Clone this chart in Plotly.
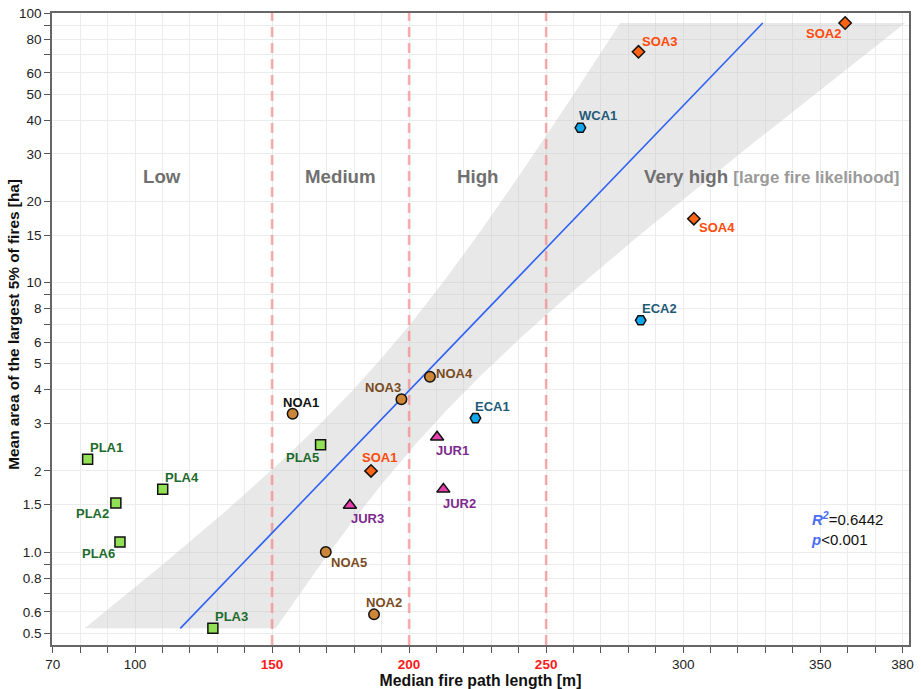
import numpy as np
import plotly.graph_objects as go

# ---------------- data ----------------
site_names = ["PLA1", "PLA2", "PLA3", "PLA4", "PLA5", "PLA6",
              "NOA1", "NOA2", "NOA3", "NOA4", "NOA5",
              "SOA1", "SOA2", "SOA3", "SOA4",
              "JUR1", "JUR2", "JUR3",
              "ECA1", "ECA2", "WCA1"]
site_groups = ["PLA"] * 6 + ["NOA"] * 5 + ["SOA"] * 4 + ["JUR"] * 3 + ["ECA", "ECA", "WCA"]
path_length = [82.7, 93.0, 128.4, 110.1, 167.7, 94.5,
               157.5, 187.2, 197.2, 207.6, 169.6,
               186.1, 359.1, 283.7, 303.9,
               210.2, 212.5, 178.4,
               224.2, 284.5, 262.5]
largest_area = [2.21, 1.52, 0.521, 1.71, 2.50, 1.09,
                3.26, 0.587, 3.69, 4.47, 1.00,
                2.00, 91.8, 71.8, 17.25,
                2.67, 1.71, 1.49,
                3.14, 7.24, 37.5]

zone_bounds = [150, 200, 250]
zone_names = ["Low", "Medium", "High", "Very high"]
zone_note = "[large fire likelihood]"
x_tick_labels = [70, 100, 150, 200, 250, 300, 350, 380]
y_tick_labels = [0.5, 0.6, 0.8, 1.0, 1.5, 2, 3, 4, 5, 6, 8, 10, 15, 20, 30, 40, 50, 60, 80, 100]
y_minor_ticks = [0.7, 0.9, 7, 9, 70, 90]
x_title = "Median fire path length [m]"
y_title = "Mean area of the largest 5% of fires [ha]"
r2_text = "0.6442"
p_text = "&lt;0.001"
t_quantile = 2.093  # t(0.975, df=19)

# ---------------- styles ----------------
group_style = {
    "PLA": dict(symbol="square", fill="#92e055", label="#1d6b2c", size=10),
    "NOA": dict(symbol="circle", fill="#cd8538", label="#7a4b1f", size=10.5),
    "SOA": dict(symbol="diamond", fill="#ff6414", label="#ff4a0a", size=9.5),
    "JUR": dict(symbol="triangle-up", fill="#e93fae", label="#7d2a8e", size=11.5),
    "ECA": dict(symbol="hexagon2", fill="#12a6ea", label="#1f5a78", size=10.5),
    "WCA": dict(symbol="hexagon2", fill="#12a6ea", label="#1f5a78", size=10.5),
}
label_color_override = {"NOA1": "#111111"}
label_offsets = {
    "PLA1": (19, 12), "PLA2": (-23, -10), "PLA3": (19, 12), "PLA4": (19, 12),
    "PLA5": (-18, -13), "PLA6": (-21, -12),
    "NOA1": (8, 11), "NOA2": (10, 12), "NOA3": (-18, 12), "NOA4": (25, 3), "NOA5": (23, -10),
    "SOA1": (8, 13), "SOA2": (-22, -10), "SOA3": (21, 10), "SOA4": (23, -9),
    "JUR1": (15, -13), "JUR2": (16, -14), "JUR3": (18, -13),
    "ECA1": (17, 12), "ECA2": (19, 12), "WCA1": (18, 12),
}
FONT = "Liberation Sans, Arial, sans-serif"
x_range = [69.7, 382.4]
y_range = [-0.345, 2.0]

# ---------------- regression (x on log10 y) ----------------
xv = np.array(path_length, dtype=float)
L = np.log10(np.array(largest_area, dtype=float))
n = len(xv)
Lbar, xbar = L.mean(), xv.mean()
SLL = ((L - Lbar) ** 2).sum()
SxL = ((xv - xbar) * (L - Lbar)).sum()
b = SxL / SLL
a = xbar - b * Lbar
resid = xv - (a + b * L)
s = np.sqrt((resid ** 2).sum() / (n - 2))
Lg = np.linspace(L.min(), L.max(), 300)
fit = a + b * Lg
half = t_quantile * s * np.sqrt(1.0 / n + (Lg - Lbar) ** 2 / SLL)

fig = go.Figure()

# confidence band
fig.add_trace(go.Scatter(
    x=np.concatenate([fit - half, (fit + half)[::-1]]),
    y=np.concatenate([10 ** Lg, (10 ** Lg)[::-1]]),
    fill="toself", fillcolor="rgba(195,195,195,0.38)",
    line=dict(width=0), mode="lines", hoverinfo="skip", showlegend=False))

# zone boundaries
for v in zone_bounds:
    fig.add_trace(go.Scatter(
        x=[v, v], y=[10 ** y_range[0], 10 ** y_range[1]], mode="lines",
        line=dict(color="rgba(244,130,130,0.65)", width=2.6, dash="10px,6px"),
        hoverinfo="skip", showlegend=False))

# regression line
fig.add_trace(go.Scatter(x=fit, y=10 ** Lg, mode="lines",
                         line=dict(color="#2f62f5", width=1.6),
                         hoverinfo="skip", showlegend=False))

# points
for g in ["PLA", "NOA", "SOA", "JUR", "ECA", "WCA"]:
    idx = [i for i, gg in enumerate(site_groups) if gg == g]
    st = group_style[g]
    fig.add_trace(go.Scatter(
        x=[path_length[i] for i in idx], y=[largest_area[i] for i in idx],
        mode="markers", name=g, showlegend=False,
        marker=dict(symbol=st["symbol"], size=st["size"], color=st["fill"],
                    line=dict(color="#111111", width=1.5))))

annotations = []
for i, nm in enumerate(site_names):
    st = group_style[site_groups[i]]
    dx, dy = label_offsets[nm]
    annotations.append(dict(
        x=path_length[i], y=np.log10(largest_area[i]), xref="x", yref="y",
        text="<b>%s</b>" % nm, showarrow=False, xanchor="center", yanchor="middle",
        xshift=dx, yshift=dy,
        font=dict(family=FONT, size=13, color=label_color_override.get(nm, st["label"]))))

# zone labels
zone_edges = [x_tick_labels[0]] + zone_bounds
zone_y = np.log10(24.7)
for k in range(3):
    annotations.append(dict(
        x=(zone_edges[k] + zone_edges[k + 1]) / 2, y=zone_y, xref="x", yref="y",
        text="<b>%s</b>" % zone_names[k], showarrow=False, xanchor="center", yanchor="middle",
        font=dict(family=FONT, size=18.7, color="#707070")))
annotations.append(dict(
    x=284.8, y=zone_y, xref="x", yref="y",
    text="<b>%s</b> <b><span style='font-size:16.9px;color:#9a9a9a'>%s</span></b>" % (zone_names[3], zone_note),
    showarrow=False, xanchor="left", yanchor="middle",
    font=dict(family=FONT, size=18.7, color="#707070")))

# stats
annotations.append(dict(
    x=0.8835, y=0.185, xref="paper", yref="paper", xanchor="left", yanchor="middle",
    align="left", showarrow=False,
    text=("<b><i><span style='color:#4b6ef5'>R<sup>2</sup></span></i></b>=%s<br>"
          "<b><i><span style='color:#4b6ef5'>p</span></i></b>%s") % (r2_text, p_text),
    font=dict(family=FONT, size=15, color="#111111")))

# y-axis title
annotations.append(dict(
    x=-0.0445, y=0.508, xref="paper", yref="paper", xanchor="center", yanchor="middle",
    textangle=-90, showarrow=False, text="<b>%s</b>" % y_title,
    font=dict(family=FONT, size=15.4, color="#111111")))

# ticks
x_tickvals = list(range(70, 381, 10))
red_ticks = set(zone_bounds)


def fmt_x(v):
    if v in red_ticks:
        return "<b><span style='color:#ff1a1a'>%d</span></b>" % v
    if v in x_tick_labels:
        return str(v)
    return " "


x_ticktext = [fmt_x(v) for v in x_tickvals]
y_tickvals = sorted(y_tick_labels + y_minor_ticks)


def fmt_y(v):
    if v not in y_tick_labels:
        return " "
    if v == 1.0:
        return "1.0"
    return ("%g" % v)


y_ticktext = [fmt_y(v) for v in y_tickvals]

fig.update_layout(
    width=921, height=689, template="none",
    margin=dict(l=52, r=12, t=13, b=44),
    paper_bgcolor="white", plot_bgcolor="white",
    font=dict(family=FONT, size=13.5, color="#222222"),
    annotations=annotations,
    xaxis=dict(range=x_range, tickmode="array", tickvals=x_tickvals, ticktext=x_ticktext,
               showgrid=True, gridcolor="#ececec", gridwidth=1, zeroline=False,
               showline=True, linecolor="#666666", linewidth=1.5, mirror=True,
               ticks="outside", ticklen=6, tickcolor="#555555", tickwidth=1,
               tickfont=dict(family=FONT, size=13.5, color="#222222"),
               automargin=False,
               title=dict(text="<b>%s</b>" % x_title, standoff=2,
                          font=dict(family=FONT, size=15.8, color="#111111"))),
    yaxis=dict(type="log", range=y_range, tickmode="array", tickvals=y_tickvals, ticktext=y_ticktext,
               showgrid=True, gridcolor="#ececec", gridwidth=1, zeroline=False,
               showline=True, linecolor="#666666", linewidth=1.5, mirror=True,
               ticks="outside", ticklen=6, tickcolor="#555555", tickwidth=1,
               tickfont=dict(family=FONT, size=13.5, color="#222222"),
               automargin=False),
)

fig.write_html("out.html", config={"displayModeBar": False},
               post_script="document.body.style.margin='0px';document.body.style.overflow='hidden';")
